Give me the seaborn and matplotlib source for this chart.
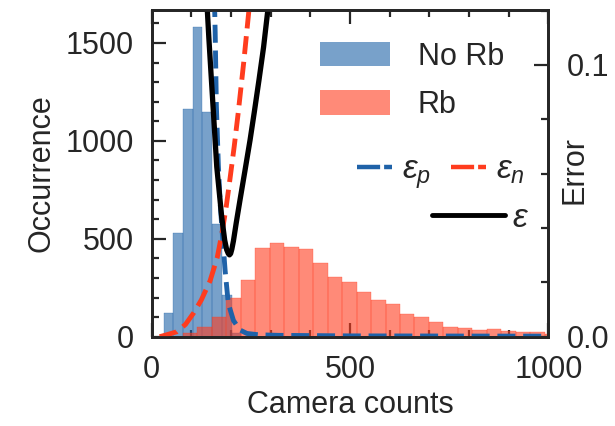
import numpy as np
import matplotlib
matplotlib.use("Agg")
import matplotlib.pyplot as plt
import seaborn as sns
from matplotlib.ticker import MultipleLocator, FixedLocator, FormatStrFormatter
from matplotlib.patches import Patch
from matplotlib.lines import Line2D

# Histogram of camera counts without atoms (bin edges and occurrences)
no_rb_edges = [30, 54.5, 79, 103.5, 128, 152.5, 177, 201.5, 226]
no_rb_counts = [121, 528, 1165, 1582, 1148, 575, 213, 18]

# Histogram of camera counts with a single Rb atom
rb_edges = [78.5, 115, 151.5, 188, 224.5, 261, 297.5, 334, 370.5, 407, 443.5,
            480, 516.5, 553, 589.5, 626, 662.5, 699, 735.5, 772, 808.5, 845,
            881.5, 918, 954.5, 991, 1027.5]
rb_counts = [20, 48, 100, 200, 287, 455, 477, 460, 446, 375, 306, 278, 230,
             189, 167, 115, 102, 77, 52, 43, 35, 38, 29, 26, 22, 15]

# Error rates versus discrimination threshold
eps_p_thr = [158, 160, 163, 168, 173, 179, 185, 193, 206, 222, 240, 270, 320, 500, 1000]
eps_p_val = [0.125, 0.112, 0.085, 0.063, 0.048, 0.036, 0.0245, 0.0123, 0.006,
             0.0025, 0.0012, 0.0007, 0.0005, 0.0003, 0.0002]

eps_n_thr = [20, 40, 63, 85, 105, 125, 147, 165, 177, 188, 197, 208, 218, 232, 245, 250]
eps_n_val = [0.0, 0.0008, 0.0018, 0.0045, 0.0086, 0.0135, 0.0205, 0.029, 0.038,
             0.048, 0.0577, 0.070, 0.0823, 0.101, 0.120, 0.127]

eps_thr = [138, 144, 151, 164, 176.5, 184, 189, 193, 196, 199, 202, 206, 213,
           222.6, 235, 248, 259, 270.5, 282, 295]
eps_val = [0.126, 0.110, 0.0933, 0.0625, 0.044, 0.0355, 0.032, 0.0306, 0.0301,
           0.0306, 0.0322, 0.0352, 0.0418, 0.0503, 0.061, 0.0724, 0.083, 0.0945,
           0.1065, 0.123]

BLUE = "#1f62a8"
RED = "#ff3c1e"
FS = 22

sns.set_style("ticks")
plt.rcParams["font.family"] = ["Liberation Sans", "DejaVu Sans"]
plt.rcParams["mathtext.fontset"] = "custom"
plt.rcParams["mathtext.rm"] = "Liberation Sans"
plt.rcParams["mathtext.it"] = "Liberation Sans:italic"
plt.rcParams["axes.linewidth"] = 2.0

fig = plt.figure(figsize=(6.15, 4.26), dpi=100)
ax1 = fig.add_axes([0.2467, 0.2096, 0.6449, 0.7669])


def centers(edges):
    e = np.asarray(edges, dtype=float)
    return 0.5 * (e[:-1] + e[1:])


sns.histplot(x=centers(no_rb_edges), weights=no_rb_counts, bins=no_rb_edges,
             ax=ax1, color=BLUE, alpha=0.6, edgecolor=BLUE, linewidth=0.2)
sns.histplot(x=centers(rb_edges), weights=rb_counts, bins=rb_edges,
             ax=ax1, color=RED, alpha=0.6, edgecolor=RED, linewidth=0.2)

ax1.set_xlim(0, 1000)
ax1.set_ylim(0, 1668)
ax1.set_xlabel("Camera counts", fontsize=FS, labelpad=4)
ax1.set_ylabel("Occurrence", fontsize=FS, labelpad=6)
ax1.xaxis.set_major_locator(FixedLocator([0, 500, 1000]))
ax1.xaxis.set_minor_locator(MultipleLocator(100))
ax1.yaxis.set_major_locator(FixedLocator([0, 500, 1000, 1500]))
ax1.yaxis.set_minor_locator(MultipleLocator(100))
ax1.tick_params(which="both", direction="in", top=True, right=False,
                width=1.6, labelsize=FS, pad=13)
ax1.tick_params(which="major", length=10)
ax1.tick_params(which="minor", length=5)

ax2 = ax1.twinx()
sns.lineplot(x=eps_p_thr, y=eps_p_val, ax=ax2, color=BLUE, lw=3.5, linestyle="--")
sns.lineplot(x=eps_n_thr, y=eps_n_val, ax=ax2, color=RED, lw=3.5, linestyle="--")
sns.lineplot(x=eps_thr, y=eps_val, ax=ax2, color="black", lw=3.8)
ax2.set_ylim(0, 0.1202)
ax2.set_xlim(0, 1000)
ax2.yaxis.set_major_locator(FixedLocator([0.0, 0.1]))
ax2.yaxis.set_minor_locator(MultipleLocator(0.02))
ax2.yaxis.set_major_formatter(FormatStrFormatter("%.1f"))
ax2.tick_params(which="both", direction="in", width=1.6, labelsize=FS, pad=13)
ax2.tick_params(which="major", length=10)
ax2.tick_params(which="minor", length=5)
ax2.set_ylabel("Error", fontsize=FS)
ax2.yaxis.set_label_coords(1.067, 0.51)
ax2.yaxis.label.set_va("center")
for s in ax2.spines.values():
    s.set_linewidth(2.0)

hist_handles = [Patch(facecolor=BLUE, alpha=0.6, edgecolor="none"),
                Patch(facecolor=RED, alpha=0.6, edgecolor="none")]
leg1 = ax2.legend(hist_handles, ["No Rb", "Rb"], loc="center left",
                  bbox_to_anchor=(0.4244, 0.7827), frameon=False, fontsize=FS,
                  handlelength=2.3, handleheight=0.85, labelspacing=0.6,
                  handletextpad=0.9, borderpad=0, borderaxespad=0)
ax2.add_artist(leg1)

err_handles = [Line2D([], [], color=BLUE, lw=3.2, dashes=(5.2, 0.9)),
               Line2D([], [], color=RED, lw=3.2, dashes=(5.2, 0.9))]
leg2 = ax2.legend(err_handles, [r"$\varepsilon_p$", r"$\varepsilon_n$"],
                  loc="center left", bbox_to_anchor=(0.5169, 0.5002), ncol=2,
                  frameon=False, fontsize=FS + 2, handlelength=1.05,
                  handletextpad=0.3, columnspacing=0.6, borderpad=0,
                  borderaxespad=0)
ax2.add_artist(leg2)

leg3 = ax2.legend([Line2D([], [], color="black", lw=3.5)], [r"$\varepsilon$"],
                  loc="center left", bbox_to_anchor=(0.7068, 0.3624),
                  frameon=False, fontsize=FS + 2, handlelength=2.2,
                  handletextpad=0.2, borderpad=0, borderaxespad=0)

fig.savefig("out.png", dpi=100)
